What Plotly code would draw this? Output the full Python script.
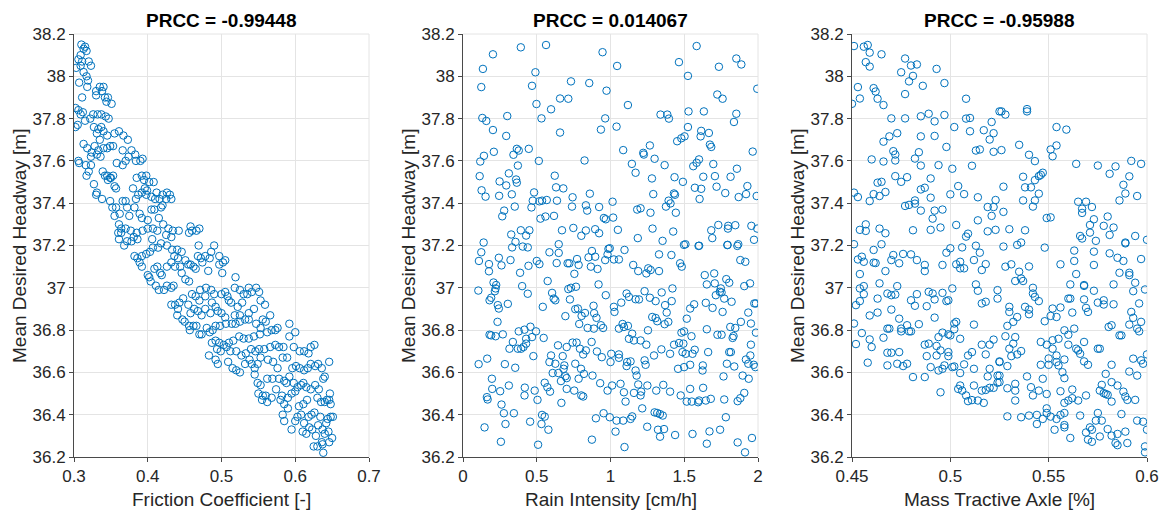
import plotly.graph_objects as go

# Sampled (input, output) pairs for each parameter
friction_pts = [
    (0.310,38.15),(0.315,38.14),(0.313,38.13),(0.317,38.12),(0.309,38.10),(0.306,38.08),(0.311,38.07),(0.303,38.04),
    (0.309,38.05),(0.320,38.07),(0.323,38.05),(0.313,38.02),(0.317,38.00),(0.319,37.98),(0.307,37.97),(0.318,37.95),
    (0.330,37.93),(0.335,37.95),(0.340,37.95),(0.338,37.93),(0.342,37.90),(0.346,37.90),(0.351,37.87),(0.344,37.88),
    (0.311,37.90),(0.330,37.91),(0.302,37.85),(0.306,37.84),(0.309,37.82),(0.312,37.83),(0.326,37.82),(0.332,37.82),
    (0.337,37.82),(0.343,37.81),(0.347,37.80),(0.322,37.80),(0.315,37.79),(0.302,37.76),(0.305,37.77),
    (0.327,37.76),(0.333,37.75),(0.337,37.76),(0.340,37.74),(0.331,37.73),(0.345,37.72),(0.355,37.73),(0.361,37.74),
    (0.367,37.72),(0.373,37.70),(0.335,37.70),(0.313,37.68),(0.318,37.66),(0.328,37.67),(0.324,37.64),(0.333,37.65),
    (0.340,37.66),(0.345,37.66),(0.349,37.67),(0.353,37.67),(0.336,37.62),(0.331,37.63),(0.323,37.62),(0.366,37.65),
    (0.378,37.65),(0.383,37.63),(0.374,37.62),(0.370,37.60),(0.366,37.58),(0.358,37.59),(0.384,37.60),(0.390,37.60),
    (0.393,37.61),(0.306,37.60),(0.307,37.59),(0.316,37.58),(0.323,37.58),(0.320,37.55),(0.317,37.53),
    (0.339,37.55),(0.342,37.53),(0.345,37.53),(0.349,37.52),(0.346,37.51),(0.350,37.52),(0.353,37.53),(0.327,37.49),
    (0.331,37.45),(0.330,37.44),(0.338,37.42),(0.355,37.48),(0.357,37.47),(0.380,37.47),(0.385,37.52),(0.392,37.53),
    (0.398,37.53),(0.395,37.51),(0.402,37.50),(0.408,37.50),(0.396,37.47),(0.399,37.46),(0.392,37.45),(0.387,37.44),
    (0.384,37.42),(0.398,37.44),(0.412,37.45),(0.420,37.44),(0.426,37.45),(0.430,37.44),(0.425,37.42),(0.432,37.42),
    (0.416,37.42),(0.405,37.43),(0.410,37.42),(0.349,37.41),(0.366,37.41),(0.370,37.41),(0.352,37.38),(0.357,37.38),
    (0.362,37.35),(0.355,37.34),(0.372,37.38),(0.375,37.34),(0.382,37.38),(0.389,37.35),(0.392,37.33),(0.405,37.37),
    (0.409,37.37),(0.418,37.38),(0.415,37.33),(0.420,37.39),(0.400,37.32),(0.361,37.30),(0.364,37.28),(0.370,37.28),
    (0.360,37.26),(0.364,37.26),(0.377,37.27),(0.385,37.26),(0.381,37.24),(0.386,37.23),(0.378,37.22),(0.372,37.22),
    (0.368,37.20),(0.361,37.23),(0.393,37.27),(0.400,37.28),(0.407,37.28),(0.413,37.27),(0.421,37.30),(0.428,37.28),
    (0.434,37.27),(0.442,37.27),(0.425,37.25),(0.432,37.24),(0.458,37.29),(0.460,37.27),(0.466,37.27),(0.470,37.28),
    (0.456,37.26),(0.406,37.23),(0.418,37.21),(0.414,37.19),(0.403,37.17),
    (0.392,37.15),(0.398,37.16),(0.386,37.14),(0.382,37.15),(0.389,37.12),(0.392,37.10),(0.407,37.19),(0.426,37.20),
    (0.433,37.18),(0.440,37.18),(0.446,37.17),(0.436,37.15),(0.441,37.14),(0.432,37.12),(0.426,37.10),(0.437,37.10),
    (0.444,37.10),(0.451,37.13),(0.455,37.11),(0.458,37.11),(0.462,37.10),(0.465,37.09),(0.468,37.15),(0.472,37.14),
    (0.478,37.15),(0.484,37.14),(0.474,37.12),(0.469,37.20),(0.490,37.20),(0.486,37.17),(0.497,37.15),(0.502,37.12),
    (0.505,37.13),(0.497,37.11),(0.501,37.07),(0.482,37.08),(0.417,37.07),(0.409,37.09),(0.400,37.06),(0.402,37.05),
    (0.404,37.03),(0.413,37.10),(0.419,37.06),(0.446,37.07),(0.451,37.04),(0.456,37.03),(0.519,37.05),(0.411,37.01),
    (0.415,36.99),(0.422,36.99),(0.426,37.01),(0.432,37.00),(0.435,37.01),
    (0.471,36.99),(0.479,37.00),(0.486,36.99),(0.490,36.97),(0.500,36.97),(0.505,36.98),(0.508,36.96),(0.510,36.94),
    (0.513,36.93),(0.518,37.00),(0.525,36.99),(0.530,36.97),(0.535,36.97),(0.541,36.98),(0.547,37.00),(0.551,36.98),
    (0.537,37.00),(0.460,36.97),(0.465,36.96),(0.478,36.96),(0.470,36.94),(0.487,36.93),(0.492,36.91),(0.432,36.92),
    (0.443,36.93),(0.448,36.95),(0.437,36.92),(0.441,36.90),(0.455,36.92),(0.458,36.88),(0.463,36.90),(0.468,36.89),
    (0.473,36.87),(0.478,36.90),(0.485,36.88),(0.495,36.89),(0.522,36.91),(0.528,36.93),(0.553,36.94),(0.559,36.92),
    (0.544,36.90),(0.537,36.88),(0.525,36.87),(0.518,36.87),(0.505,36.86),(0.500,36.88),(0.440,36.87),(0.447,36.85),
    (0.450,36.84),(0.456,36.82),(0.462,36.82),(0.466,36.82),(0.457,36.80),(0.470,36.78),(0.473,36.78),(0.480,36.81),
    (0.484,36.79),(0.488,36.80),(0.492,36.82),(0.498,36.82),(0.506,36.83),(0.514,36.83),(0.519,36.83),(0.525,36.84),
    (0.532,36.85),(0.537,36.85),(0.547,36.83),(0.556,36.85),(0.560,36.84),(0.566,36.87),(0.553,36.81),(0.562,36.79),
    (0.568,36.80),(0.573,36.80),(0.576,36.81),(0.592,36.83),(0.600,36.79),
    (0.552,36.78),(0.544,36.77),(0.537,36.76),(0.530,36.76),(0.524,36.77),(0.516,36.75),(0.510,36.74),(0.503,36.73),
    (0.497,36.74),(0.492,36.75),(0.487,36.74),(0.494,36.71),(0.499,36.70),(0.507,36.72),(0.512,36.70),(0.520,36.70),
    (0.527,36.68),(0.533,36.69),(0.540,36.71),(0.546,36.70),(0.551,36.71),(0.558,36.71),(0.566,36.72),(0.573,36.73),
    (0.578,36.72),(0.584,36.72),(0.592,36.77),(0.598,36.72),(0.606,36.70),(0.612,36.70),(0.618,36.69),(0.621,36.72),
    (0.626,36.73),(0.483,36.68),(0.492,36.66),(0.495,36.64),(0.509,36.65),(0.515,36.62),(0.520,36.61),(0.525,36.60),
    (0.532,36.64),(0.538,36.66),(0.541,36.64),(0.545,36.62),(0.549,36.64),(0.553,36.67),(0.563,36.66),(0.570,36.65),
    (0.576,36.62),(0.583,36.67),(0.589,36.67),(0.596,36.62),(0.601,36.63),(0.606,36.62),(0.612,36.61),(0.617,36.62),
    (0.627,36.63),(0.631,36.64),(0.646,36.65),(0.621,36.64),(0.636,36.62),
    (0.545,36.59),(0.549,36.55),(0.553,36.54),(0.562,36.57),(0.569,36.57),(0.574,36.52),(0.578,36.57),(0.585,36.56),
    (0.588,36.55),(0.592,36.58),(0.598,36.55),(0.603,36.53),(0.608,36.54),(0.611,36.55),(0.615,36.53),(0.621,36.52),
    (0.627,36.54),(0.632,36.52),(0.638,36.57),(0.640,36.58),(0.647,36.50),(0.643,36.47),(0.640,36.46),(0.646,36.47),
    (0.648,36.45),(0.550,36.50),(0.556,36.49),(0.560,36.49),(0.555,36.47),(0.562,36.46),(0.568,36.48),(0.580,36.47),
    (0.585,36.45),(0.590,36.48),(0.582,36.49),(0.595,36.50),(0.600,36.51),(0.590,36.43),(0.605,36.44),(0.611,36.45),
    (0.616,36.47),(0.630,36.48),(0.635,36.46),
    (0.583,36.40),(0.585,36.37),(0.595,36.33),(0.600,36.37),(0.603,36.39),(0.608,36.40),(0.612,36.36),(0.610,36.32),
    (0.615,36.31),(0.618,36.39),(0.622,36.40),(0.626,36.41),(0.619,36.34),(0.623,36.33),(0.628,36.30),(0.631,36.35),
    (0.634,36.39),(0.637,36.33),(0.640,36.31),(0.642,36.36),(0.644,36.38),(0.648,36.39),(0.651,36.39),(0.645,36.32),
    (0.650,36.29),(0.636,36.27),(0.630,36.25),(0.637,36.26),(0.646,36.27),(0.638,36.22),(0.625,36.25),
]

rain_pts = [
    (0.392,38.137),(0.563,38.148),(0.203,38.104),(0.135,38.035),(0.946,38.114),(0.491,38.019),(0.124,37.949),(0.468,37.955),
    (0.732,37.976),(0.856,37.968),(0.973,37.932),(0.658,37.895),(0.714,37.894),(0.498,37.869),(0.597,37.844),(0.131,37.803),
    (0.158,37.789),(0.300,37.812),(0.532,37.801),(0.964,37.801),(0.203,37.746),(0.293,37.718),(0.658,37.734),(0.935,37.748),
    (0.365,37.657),(0.378,37.649),(0.446,37.657),(0.342,37.629),(0.209,37.643),(0.142,37.624),(0.117,37.597),(0.514,37.600),
    (0.372,37.578),(0.824,37.602),(0.113,37.528),(0.311,37.541),(0.248,37.503),(0.293,37.484),(0.360,37.512),(0.365,37.497),
    (0.622,37.530),(0.631,37.475),(0.680,37.470),(0.126,37.461),(0.153,37.431),(0.245,37.435),(0.331,37.442),(0.482,37.451),
    (0.743,37.428),(0.860,37.445),(0.473,37.412),(0.518,37.409),(0.536,37.412),(0.568,37.415),(0.637,37.412),(0.739,37.384),
    (0.833,37.390),(0.923,37.382),(0.842,37.365),(0.464,37.380),(0.351,37.384),(0.279,37.365),(0.266,37.338),(0.525,37.327),
    (0.559,37.337),(0.617,37.340),(0.955,37.330),(0.968,37.324),(0.392,37.272),(0.450,37.272),(0.428,37.247),(0.327,37.252),
    (0.671,37.272),(0.748,37.283),(0.833,37.271),(0.802,37.246),(0.896,37.277),(0.923,37.258),(0.140,37.214),(0.356,37.217),
    (0.649,37.206),
    (1.045,38.049),(1.584,38.143),(1.464,38.067),(1.525,38.002),(1.735,38.045),(1.853,38.084),(1.887,38.056),(1.995,37.941),
    (1.724,37.914),(1.760,37.894),(1.118,37.864),(1.339,37.819),(1.385,37.819),(1.396,37.800),(1.529,37.834),(1.633,37.834),
    (1.853,37.823),(1.837,37.784),(1.041,37.762),(1.525,37.760),(1.615,37.742),(1.611,37.716),(1.667,37.732),(1.502,37.716),
    (1.480,37.707),(1.452,37.693),(1.674,37.677),(1.683,37.666),(1.267,37.673),(1.222,37.638),(1.226,37.630),(1.086,37.651),
    (1.299,37.610),(1.964,37.644),(1.145,37.586),(1.170,37.544),(1.367,37.580),(1.600,37.607),(1.584,37.591),(1.561,37.575),
    (1.697,37.585),(1.857,37.563),(1.814,37.525),(1.708,37.528),(1.629,37.525),(1.434,37.523),(1.491,37.501),(1.281,37.517),
    (1.572,37.473),(1.615,37.468),(1.719,37.478),(1.928,37.481),(1.290,37.443),(1.430,37.446),(1.437,37.440),(1.778,37.448),
    (1.919,37.443),(1.869,37.429),(1.991,37.434),(1.604,37.420),(1.394,37.412),(1.407,37.399),(1.376,37.384),(1.014,37.407),
    (1.181,37.370),(1.204,37.376),(1.271,37.355),(1.443,37.355),(1.018,37.332),(1.050,37.274),(1.285,37.280),(1.425,37.266),
    (1.185,37.235),(1.353,37.222),(1.683,37.272),(1.690,37.235),(1.731,37.297),(1.798,37.293),(1.796,37.280),(1.846,37.296),
    (1.955,37.293),(1.995,37.280),(1.973,37.227),(1.498,37.203),(1.597,37.198),(1.792,37.202),(1.860,37.198),
    (0.405,37.195),(0.439,37.191),(0.124,37.168),(0.333,37.191),(0.586,37.168),(0.649,37.165),(0.108,37.127),(0.176,37.112),
    (0.176,37.078),(0.243,37.142),(0.261,37.106),(0.322,37.131),(0.387,37.071),(0.444,37.104),(0.500,37.127),(0.518,37.112),
    (0.635,37.117),(0.709,37.116),(0.721,37.116),(0.773,37.136),(0.784,37.108),(0.755,37.066),(0.851,37.144),(0.874,37.174),
    (0.896,37.147),(0.912,37.089),(0.867,37.100),(0.964,37.131),(0.980,37.158),(0.207,37.025),(0.225,37.013),(0.221,36.997),
    (0.216,36.984),(0.104,36.987),(0.191,36.953),(0.180,36.941),(0.236,36.918),(0.243,36.902),(0.304,36.924),(0.401,37.008),
    (0.439,36.972),(0.574,37.032),(0.604,36.976),(0.615,36.949),(0.626,36.941),(0.541,36.910),(0.714,36.994),(0.732,37.000),
    (0.766,37.005),(0.725,36.945),(0.919,37.016),(0.968,36.965),(0.694,36.866),(0.761,36.899),(0.779,36.902),(0.827,36.881),
    (0.804,36.867),(0.885,36.915),(0.889,36.880),(0.905,36.858),(0.788,36.829),(0.845,36.810),(0.887,36.807),(0.935,36.823),
    (0.950,36.810),(0.234,36.839),(0.180,36.778),(0.191,36.775),(0.221,36.771),(0.270,36.780),(0.378,36.794),(0.417,36.802),
    (0.457,36.816),(0.495,36.794),(0.468,36.767),(0.428,36.759),(0.428,36.736),(0.338,36.744),(0.315,36.712),(0.372,36.712),
    (0.394,36.712),(0.410,36.720),(0.547,36.763),(0.644,36.728),(0.703,36.720),(0.743,36.741),(0.770,36.741),(0.793,36.712),
    (0.833,36.704),(0.815,36.685),(0.872,36.744),(0.908,36.699),(0.941,36.672),(0.477,36.677),(0.597,36.680),(0.676,36.677),
    (0.586,36.649),(0.626,36.641),(0.687,36.633),(0.682,36.617),(0.761,36.641),(0.800,36.617),(0.106,36.639),(0.164,36.665),
    (0.284,36.639),(0.354,36.622),(0.608,36.597),(0.646,36.597),(0.694,36.582),(0.703,36.573),(0.664,36.559),(0.784,36.570),
    (0.820,36.593),(0.878,36.585),(0.930,36.549),(0.980,36.514),(0.196,36.570),(0.198,36.522),(0.162,36.483),(0.167,36.472),
    (0.252,36.511),(0.311,36.538),(0.419,36.528),(0.417,36.491),(0.486,36.514),(0.505,36.470),(0.554,36.551),(0.572,36.530),
    (0.590,36.509),(0.667,36.456),(0.703,36.522),(0.754,36.514),(0.802,36.491),(0.815,36.486),(0.261,36.448),(0.277,36.407),
    (0.345,36.407),(0.536,36.399),(0.554,36.391),(0.532,36.356),(0.455,36.367),(0.579,36.329),(0.288,36.356),(0.146,36.340),
    (0.257,36.272),(0.509,36.258),(0.874,36.282),(0.901,36.383),(0.953,36.407),
    (0.986,37.184),(0.995,37.187),(1.023,37.134),(1.057,37.134),(1.095,37.179),(1.154,37.108),(1.188,37.079),(1.243,37.068),
    (1.256,37.092),(1.272,37.084),(1.329,37.079),(1.329,37.158),(1.413,37.155),(1.472,37.116),(1.483,37.100),(1.508,37.206),
    (1.601,37.199),(1.794,37.203),(1.866,37.206),(1.880,37.131),(1.914,37.123),(1.639,37.060),(1.703,37.068),(1.653,37.016),
    (1.707,37.021),(1.785,37.041),(1.805,37.024),(1.748,36.997),(1.741,36.981),(1.753,36.978),(1.714,36.965),(1.771,36.949),
    (1.821,36.934),(1.907,37.008),(1.946,37.021),(1.986,36.926),(1.975,36.926),(1.109,36.973),(1.125,36.957),(1.170,36.946),
    (1.193,36.945),(1.231,36.984),(1.267,36.953),(1.306,36.937),(1.347,36.978),(1.420,36.997),(1.415,36.937),(1.370,36.918),
    (1.381,36.883),(1.073,36.930),(1.023,36.910),(1.027,36.886),(1.091,36.815),(1.082,36.829),(1.118,36.820),(1.057,36.807),
    (1.283,36.862),(1.306,36.857),(1.317,36.842),(1.367,36.828),(1.392,36.839),(1.517,36.854),(1.540,36.902),(1.567,36.922),
    (1.646,36.929),(1.692,36.905),(1.760,36.886),(1.254,36.799),(1.147,36.783),(1.125,36.759),(1.159,36.751),(1.204,36.751),
    (1.243,36.731),(1.481,36.788),(1.499,36.794),(1.549,36.771),(1.653,36.804),(1.725,36.778),(1.753,36.778),(1.812,36.815),
    (1.846,36.810),(1.828,36.763),(1.834,36.772),(1.884,36.839),(1.934,36.883),(1.952,36.831),(1.986,36.788),(1.952,36.731),
    (1.431,36.731),(1.465,36.739),(1.494,36.736),(1.488,36.696),(1.510,36.688),(1.556,36.688),(1.571,36.707),(1.404,36.688),
    (1.345,36.709),(1.295,36.680),(1.662,36.696),(1.816,36.696),(1.805,36.696),(1.005,36.688),(1.057,36.685),(1.000,36.649),
    (1.057,36.669),(1.113,36.649),(1.136,36.652),(1.109,36.630),(1.231,36.657),(1.238,36.636),(1.458,36.617),(1.499,36.625),
    (1.540,36.636),(1.626,36.633),(1.624,36.609),(1.789,36.641),(1.839,36.628),(1.918,36.661),(1.948,36.680),(1.934,36.641),
    (1.971,36.636),(1.982,36.625),(1.937,36.570),(1.896,36.585),(1.170,36.609),(1.177,36.585),(1.188,36.543),(1.250,36.538),
    (1.208,36.509),(1.204,36.491),(1.159,36.503),(1.091,36.506),(1.102,36.462),(1.068,36.546),(1.011,36.538),(1.310,36.514),
    (1.358,36.541),(1.404,36.509),(1.476,36.491),(1.517,36.462),(1.540,36.522),(1.551,36.462),(1.594,36.459),(1.601,36.467),
    (1.646,36.467),(1.680,36.475),(1.628,36.527),(1.771,36.472),(1.766,36.581),(1.862,36.464),(1.880,36.478),(1.907,36.503),
    (0.995,36.388),(1.041,36.372),(1.086,36.372),(1.136,36.380),(1.147,36.392),(1.215,36.430),(1.299,36.411),(1.317,36.408),
    (1.335,36.403),(1.354,36.396),(1.249,36.343),(1.322,36.329),(1.363,36.332),(1.336,36.296),(1.438,36.304),(1.556,36.309),
    (1.653,36.263),(1.671,36.321),(1.743,36.329),(1.782,36.388),(1.034,36.320),(1.095,36.247),(1.862,36.269),(1.912,36.222),
    (1.959,36.290),
]

mass_pts = [
    (0.451,38.143),(0.456,38.140),(0.458,38.148),(0.459,38.112),(0.465,38.104),(0.457,38.067),(0.459,38.046),(0.477,38.084),
    (0.480,38.051),(0.483,38.056),(0.475,38.019),(0.481,38.002),(0.479,37.976),(0.486,37.955),(0.493,38.035),(0.497,37.968),
    (0.453,37.949),(0.461,37.944),(0.462,37.928),(0.454,37.895),(0.463,37.894),(0.450,37.870),(0.466,37.864),(0.477,37.916),
    (0.508,37.894),(0.470,37.801),(0.477,37.801),(0.485,37.811),(0.489,37.823),(0.492,37.787),(0.497,37.817),(0.502,37.760),
    (0.508,37.800),(0.510,37.803),(0.521,37.784),(0.525,37.834),(0.510,37.740),(0.517,37.745),(0.522,37.731),(0.520,37.701),
    (0.522,37.643),(0.469,37.716),(0.473,37.731),(0.466,37.691),(0.485,37.716),(0.492,37.718),(0.498,37.666),(0.471,37.646),
    (0.472,37.630),(0.472,37.602),(0.484,37.641),(0.482,37.611),(0.485,37.578),(0.494,37.580),(0.501,37.563),(0.511,37.577),
    (0.513,37.649),(0.515,37.654),(0.460,37.607),(0.466,37.597),(0.472,37.528),(0.475,37.501),(0.478,37.523),(0.490,37.517),
    (0.463,37.497),(0.465,37.501),(0.467,37.453),(0.461,37.443),(0.464,37.434),(0.459,37.410),(0.451,37.450),(0.453,37.429),
    (0.485,37.465),(0.487,37.473),(0.490,37.426),(0.504,37.481),(0.500,37.442),(0.507,37.443),(0.514,37.428),(0.477,37.387),
    (0.479,37.392),(0.482,37.413),(0.482,37.398),(0.485,37.365),(0.492,37.365),(0.496,37.370),(0.491,37.327),(0.519,37.382),
    (0.521,37.340),(0.522,37.382),(0.523,37.415),(0.514,37.319),(0.454,37.274),(0.457,37.269),(0.457,37.300),(0.464,37.280),
    (0.467,37.258),(0.481,37.272),(0.490,37.274),(0.495,37.285),(0.503,37.297),(0.508,37.242),(0.509,37.256),(0.519,37.267),
    (0.523,37.274),
    (0.526,37.834),(0.528,37.819),(0.539,37.834),(0.539,37.845),(0.554,37.760),(0.559,37.748),(0.535,37.676),(0.526,37.651),
    (0.540,37.629),(0.543,37.599),(0.551,37.654),(0.554,37.673),(0.552,37.622),(0.564,37.586),(0.575,37.578),(0.581,37.539),
    (0.584,37.574),(0.592,37.600),(0.597,37.586),(0.591,37.527),(0.588,37.487),(0.589,37.446),(0.586,37.413),(0.595,37.434),
    (0.537,37.525),(0.538,37.475),(0.541,37.475),(0.543,37.509),(0.545,37.528),(0.546,37.534),(0.547,37.544),(0.527,37.478),
    (0.545,37.445),(0.543,37.413),(0.542,37.384),(0.537,37.413),(0.527,37.359),(0.565,37.407),(0.569,37.407),(0.572,37.382),
    (0.567,37.374),(0.567,37.354),(0.573,37.324),(0.571,37.297),(0.580,37.337),(0.578,37.293),(0.583,37.285),(0.581,37.250),
    (0.594,37.245),(0.600,37.227),(0.566,37.245),(0.567,37.233),(0.571,37.261),(0.574,37.222),(0.549,37.330),(0.551,37.333),
    (0.538,37.272),(0.530,37.277),(0.536,37.214),(0.589,37.214),
    (0.451,37.206),(0.465,37.206),(0.461,37.179),(0.453,37.134),(0.455,37.147),(0.456,37.123),(0.461,37.119),(0.462,37.117),
    (0.454,37.065),(0.467,37.079),(0.471,37.155),(0.470,37.131),(0.474,37.116),(0.476,37.160),(0.480,37.158),(0.483,37.131),
    (0.487,37.108),(0.487,37.079),(0.496,37.108),(0.498,37.166),(0.500,37.187),(0.503,37.111),(0.505,37.123),(0.505,37.092),
    (0.507,37.092),(0.506,37.191),(0.512,37.131),(0.513,37.199),(0.515,37.166),(0.518,37.112),(0.516,37.084),(0.454,36.997),
    (0.456,37.008),(0.456,36.970),(0.454,36.937),(0.452,36.918),(0.459,36.869),(0.463,36.949),(0.463,36.883),(0.464,37.021),
    (0.468,36.973),(0.470,36.965),(0.472,36.968),(0.473,37.008),(0.470,36.897),(0.474,36.854),(0.480,36.941),(0.482,36.915),
    (0.483,36.970),(0.488,36.913),(0.489,36.981),(0.491,36.973),(0.492,36.945),(0.496,36.976),(0.498,36.937),(0.499,36.941),
    (0.501,36.997),(0.492,36.859),(0.513,37.016),(0.514,36.986),(0.516,36.926),(0.518,36.934),(0.524,36.989),(0.524,36.949),
    (0.451,36.831),(0.455,36.786),(0.452,36.734),(0.459,36.756),(0.460,36.720),(0.466,36.764),(0.468,36.807),(0.469,36.807),
    (0.475,36.807),(0.475,36.794),(0.478,36.823),(0.479,36.794),(0.480,36.794),(0.484,36.828),(0.468,36.693),(0.470,36.693),
    (0.474,36.696),(0.458,36.646),(0.468,36.633),(0.473,36.641),(0.476,36.630),(0.478,36.641),(0.481,36.578),(0.487,36.578),
    (0.487,36.731),(0.489,36.736),(0.493,36.725),(0.494,36.767),(0.495,36.704),(0.496,36.788),(0.499,36.780),(0.500,36.775),
    (0.502,36.831),(0.503,36.839),(0.502,36.804),(0.505,36.759),(0.488,36.677),(0.493,36.680),(0.499,36.696),(0.499,36.677),
    (0.490,36.625),(0.494,36.609),(0.496,36.617),(0.497,36.633),(0.501,36.625),(0.502,36.628),(0.507,36.638),(0.509,36.680),
    (0.511,36.696),(0.505,36.597),(0.512,36.617),(0.512,36.826),(0.516,36.731),(0.520,36.731),(0.522,36.755),(0.518,36.685),
    (0.520,36.617),(0.525,36.649),(0.495,36.506),(0.504,36.522),(0.505,36.538),(0.506,36.514),(0.508,36.491),(0.509,36.464),
    (0.511,36.469),(0.512,36.538),(0.514,36.467),(0.516,36.514),(0.517,36.456),(0.518,36.517),(0.520,36.527),(0.519,36.581),
    (0.522,36.527),(0.524,36.551),(0.524,36.585),
    (0.527,37.195),(0.534,37.203),(0.548,37.190),(0.563,37.176),(0.573,37.171),(0.581,37.163),(0.585,37.142),(0.588,37.127),
    (0.589,37.210),(0.597,37.136),(0.528,37.100),(0.531,37.111),(0.540,37.101),(0.535,37.076),(0.536,37.044),(0.533,37.032),
    (0.537,37.032),(0.542,37.000),(0.556,37.111),(0.563,37.127),(0.564,37.065),(0.573,37.108),(0.561,37.016),(0.568,37.013),
    (0.568,37.009),(0.573,36.986),(0.583,37.016),(0.586,37.071),(0.591,37.071),(0.591,37.060),(0.594,37.024),(0.593,36.984),
    (0.599,36.992),(0.542,36.973),(0.543,36.957),(0.545,36.937),(0.538,36.910),(0.540,36.897),(0.540,36.875),(0.530,36.910),
    (0.530,36.886),(0.534,36.862),(0.532,36.839),(0.529,36.820),(0.552,36.902),(0.556,36.907),(0.551,36.867),(0.554,36.862),
    (0.548,36.842),(0.560,36.949),(0.561,36.949),(0.562,36.883),(0.568,36.945),(0.569,36.905),(0.570,36.886),(0.575,36.930),
    (0.578,36.941),(0.578,36.921),(0.583,36.922),(0.596,36.926),(0.592,36.886),(0.593,36.858),(0.597,36.839),(0.591,36.826),
    (0.595,36.807),(0.596,36.794),(0.5805,36.815),(0.582,36.823),(0.586,36.775),(0.587,36.775),(0.563,36.807),(0.558,36.799),
    (0.560,36.778),(0.555,36.759),(0.568,36.744),(0.560,36.731),(0.565,36.704),(0.564,36.712),(0.566,36.688),(0.575,36.712),
    (0.576,36.712),(0.528,36.771),(0.533,36.767),(0.532,36.736),(0.530,36.712),(0.531,36.677),(0.534,36.685),(0.536,36.701),
    (0.546,36.744),(0.549,36.731),(0.552,36.752),(0.552,36.712),(0.554,36.680),(0.554,36.649),(0.555,36.633),(0.558,36.661),
    (0.550,36.666),(0.550,36.636),(0.546,36.636),(0.568,36.652),(0.570,36.636),(0.582,36.636),(0.579,36.593),(0.591,36.604),
    (0.593,36.665),(0.597,36.657),(0.598,36.641),(0.600,36.685),(0.595,36.585),(0.525,36.652),(0.529,36.630),(0.525,36.585),
    (0.525,36.554),(0.529,36.525),(0.533,36.514),(0.533,36.546),(0.539,36.581),(0.541,36.530),(0.542,36.491),(0.545,36.514),
    (0.549,36.498),(0.547,36.570),(0.533,36.467),(0.557,36.601),(0.558,36.573),(0.556,36.511),(0.558,36.456),(0.560,36.467),
    (0.562,36.519),(0.562,36.478),(0.565,36.467),(0.569,36.491),(0.577,36.541),(0.576,36.514),(0.578,36.502),(0.579,36.498),
    (0.580,36.494),(0.582,36.462),(0.582,36.554),(0.585,36.538),(0.588,36.509),(0.589,36.486),(0.590,36.470),(0.594,36.470),
    (0.529,36.392),(0.536,36.388),(0.540,36.396),(0.544,36.399),(0.544,36.356),(0.547,36.380),(0.549,36.430),(0.549,36.408),
    (0.551,36.391),(0.554,36.380),(0.556,36.399),(0.558,36.408),(0.558,36.351),(0.558,36.340),(0.553,36.329),(0.561,36.290),
    (0.566,36.396),(0.575,36.408),(0.574,36.372),(0.577,36.372),(0.571,36.340),(0.572,36.329),(0.569,36.316),(0.570,36.282),
    (0.572,36.272),(0.576,36.297),(0.580,36.332),(0.582,36.301),(0.585,36.309),(0.589,36.320),(0.584,36.266),(0.585,36.256),
    (0.590,36.266),(0.587,36.403),(0.595,36.372),(0.598,36.367),(0.600,36.329),(0.599,36.250),(0.599,36.222),
]

prcc_values = ["-0.99448", "0.014067", "-0.95988"]
x_titles = ["Friction Coefficient [-]", "Rain Intensity [cm/h]", "Mass Tractive Axle [%]"]
y_title = "Mean Desired Headway [m]"

x_ranges = [[0.3, 0.7], [0, 2], [0.45, 0.6]]
x_tickvals = [[0.3, 0.4, 0.5, 0.6, 0.7], [0, 0.5, 1, 1.5, 2], [0.45, 0.5, 0.55, 0.6]]
x_ticktext = [["0.3", "0.4", "0.5", "0.6", "0.7"], ["0", "0.5", "1", "1.5", "2"], ["0.45", "0.5", "0.55", "0.6"]]
y_tickvals = [36.2, 36.4, 36.6, 36.8, 37.0, 37.2, 37.4, 37.6, 37.8, 38.0, 38.2]
y_ticktext = ["36.2", "36.4", "36.6", "36.8", "37", "37.2", "37.4", "37.6", "37.8", "38", "38.2"]

W, H = 1167, 513
# plot-area pixel extents
left_px = [74, 463, 852]
width_px = 295
top_px, bottom_px = 34, 457

FONT = "Liberation Sans, Arial, Helvetica, sans-serif"
TXT = "#262626"
MARK = "#0072BD"
GRID = "#e4e4e4"
AXIS = "#4a4a4a"

fig = go.Figure()
layout = dict(
    width=W, height=H, autosize=False,
    margin=dict(l=0, r=0, t=0, b=0, pad=0, autoexpand=False),
    paper_bgcolor="white", plot_bgcolor="white",
    showlegend=False,
    font=dict(family=FONT, color=TXT),
)
annotations = []
shapes = []

for i, pts in enumerate([friction_pts, rain_pts, mass_pts]):
    xs = [p[0] for p in pts]
    ys = [p[1] for p in pts]
    sfx = "" if i == 0 else str(i + 1)
    fig.add_trace(go.Scatter(
        x=xs, y=ys, mode="markers",
        xaxis="x" + sfx, yaxis="y" + sfx,
        marker=dict(symbol="circle-open", size=7.5, color=MARK, line=dict(width=1, color=MARK)),
        hoverinfo="x+y",
    ))
    x0 = left_px[i] / W
    x1 = (left_px[i] + width_px) / W
    y0 = 1 - bottom_px / H
    y1 = 1 - top_px / H
    common = dict(
        showgrid=True, gridcolor=GRID, gridwidth=1, zeroline=False,
        showline=True, linecolor=AXIS, linewidth=1,
        ticks="outside", ticklen=4, tickcolor=AXIS,
        tickfont=dict(family=FONT, size=17, color=TXT),
        automargin=False,
    )
    layout["xaxis" + sfx] = dict(
        domain=[x0, x1], range=x_ranges[i], anchor="y" + sfx,
        tickvals=x_tickvals[i], ticktext=x_ticktext[i], **common,
    )
    layout["yaxis" + sfx] = dict(
        domain=[y0, y1], range=[36.2, 38.2], anchor="x" + sfx,
        tickvals=y_tickvals, ticktext=y_ticktext, **common,
    )
    # light frame on the top and right edges
    shapes.append(dict(type="line", xref="paper", yref="paper", x0=x0, x1=x1, y0=y1, y1=y1,
                       line=dict(color=GRID, width=1), layer="below"))
    shapes.append(dict(type="line", xref="paper", yref="paper", x0=x1, x1=x1, y0=y0, y1=y1,
                       line=dict(color=GRID, width=1), layer="below"))
    cx = (x0 + x1) / 2
    annotations.append(dict(
        text="<b>PRCC = " + prcc_values[i] + "</b>", x=cx, y=1 - 20.5 / H,
        xref="paper", yref="paper", xanchor="center", yanchor="middle",
        showarrow=False, font=dict(family=FONT, size=19, color="black"),
    ))
    annotations.append(dict(
        text=x_titles[i], x=cx, y=1 - 499 / H,
        xref="paper", yref="paper", xanchor="center", yanchor="middle",
        showarrow=False, font=dict(family=FONT, size=19, color=TXT),
    ))
    annotations.append(dict(
        text=y_title, x=(left_px[i] - 55) / W, y=1 - 246 / H,
        xref="paper", yref="paper", xanchor="center", yanchor="middle",
        textangle=-90, showarrow=False, font=dict(family=FONT, size=19, color=TXT),
    ))

layout["annotations"] = annotations
layout["shapes"] = shapes
fig.update_layout(**layout)
fig.write_html("out.html")
